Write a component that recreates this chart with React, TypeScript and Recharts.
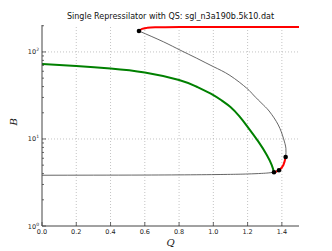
import React from "react";
import {
  ComposedChart,
  Line,
  Scatter,
  XAxis,
  YAxis,
  ReferenceLine,
} from "recharts";

// Q (x) and B (y) values
const lowerBranchQ = [0, 0.3, 0.6, 0.9, 1.1, 1.2, 1.28, 1.32, 1.354];
const lowerBranchB = [3.83, 3.84, 3.85, 3.88, 3.92, 3.96, 4.02, 4.07, 4.14];

const upperBranchQ = [0.566, 0.708, 0.806, 0.903, 1.0, 1.097, 1.195, 1.234, 1.292, 1.33, 1.379, 1.409, 1.4235, 1.422];
const upperBranchB = [174, 131, 105, 84.7, 67.8, 53.7, 38.3, 32.0, 24.6, 20.4, 14.5, 10.2, 7.8, 6.21];

const redTopQ = [0.566, 0.584, 0.613, 0.66, 0.806, 1.0, 1.5];
const redTopB = [174, 184, 189, 192, 193.7, 194, 194];

const redLowQ = [1.422, 1.409, 1.383, 1.354];
const redLowB = [6.21, 5.03, 4.37, 4.14];

const greenQ = [0, 0.2, 0.4, 0.6, 0.8, 0.9, 1.0, 1.05, 1.1, 1.15, 1.2, 1.263, 1.312, 1.341, 1.354];
const greenB = [72.8, 69.0, 64.6, 58.1, 47.7, 40.1, 32.0, 27.6, 23.3, 18.4, 13.8, 9.31, 6.55, 5.02, 4.14];

const bifQ = [0.566, 1.354, 1.383, 1.422];
const bifB = [174, 4.14, 4.37, 6.21];

const xTicks = [0, 0.2, 0.4, 0.6, 0.8, 1.0, 1.2, 1.4];
const yTicks = [1, 2, 3, 4, 5, 6, 7, 8, 9, 10, 20, 30, 40, 50, 60, 70, 80, 90, 100, 200];
const yMajor = [1, 10, 100];

const zip = (qs: number[], bs: number[]) => qs.map((q, i) => ({ q, b: bs[i] }));

const lowerData = zip(lowerBranchQ, lowerBranchB);
const upperData = zip(upperBranchQ, upperBranchB);
const redTopData = zip(redTopQ, redTopB);
const redLowData = zip(redLowQ, redLowB);
const greenData = zip(greenQ, greenB);
const bifData = zip(bifQ, bifB);

const FONT = "DejaVu Sans";
const FRAME = "#444";

const BottomTick = (props: any) => {
  const { x, y, payload } = props;
  return (
    <g>
      <line x1={x} y1={y} x2={x} y2={y - 4} stroke={FRAME} strokeWidth={0.8} />
      <text x={x} y={y + 8} textAnchor="middle" fontSize={6.5} fontFamily={FONT} fill="#222">
        {payload.value.toFixed(1)}
      </text>
    </g>
  );
};

const TopTick = (props: any) => {
  const { x, y } = props;
  return <line x1={x} y1={y} x2={x} y2={y + 4} stroke={FRAME} strokeWidth={0.8} />;
};

const LeftTick = (props: any) => {
  const { x, y, payload } = props;
  const major = yMajor.includes(payload.value);
  const exp = Math.round(Math.log10(payload.value));
  return (
    <g>
      <line x1={x} y1={y} x2={x + (major ? 4 : 2)} y2={y} stroke={FRAME} strokeWidth={0.8} />
      {major && (
        <text x={x - 3} y={y + 2.5} textAnchor="end" fontSize={6.5} fontFamily={FONT} fill="#222">
          10
          <tspan dy={-3} fontSize={4.5}>{exp}</tspan>
        </text>
      )}
    </g>
  );
};

const RightTick = (props: any) => {
  const { x, y, payload } = props;
  const major = yMajor.includes(payload.value);
  return <line x1={x} y1={y} x2={x - (major ? 4 : 2)} y2={y} stroke={FRAME} strokeWidth={0.8} />;
};

const Dot = (props: any) => <circle cx={props.cx} cy={props.cy} r={2.3} fill="#000" />;

export default function App() {
  return (
    <div style={{ position: "absolute", left: 0, top: 0, width: 332, height: 251, background: "#fff" }}>
      <div
        style={{
          position: "absolute",
          left: 42,
          width: 257,
          top: 12,
          textAlign: "center",
          fontFamily: FONT,
          fontSize: 8,
          color: "#111",
          whiteSpace: "nowrap",
        }}
      >
        Single Repressilator with QS: sgl_n3a190b.5k10.dat
      </div>
      <ComposedChart width={332} height={251} margin={{ top: 25, right: 33, bottom: 0, left: 0 }}>
        <XAxis
          dataKey="q"
          type="number"
          domain={[0, 1.5]}
          ticks={xTicks}
          allowDataOverflow
          height={25}
          tickSize={0}
          tickMargin={0}
          tickLine={false}
          axisLine={{ stroke: FRAME }}
          tick={<BottomTick />}
          label={{
            value: "Q",
            position: "insideBottom",
            offset: 5,
            style: { fontFamily: "DejaVu Serif", fontStyle: "italic", fontSize: 10, fill: "#222" },
          }}
        />
        <XAxis
          xAxisId="top"
          orientation="top"
          type="number"
          domain={[0, 1.5]}
          ticks={xTicks}
          allowDataOverflow
          height={0}
          tickSize={0}
          tickMargin={0}
          tickLine={false}
          axisLine={{ stroke: FRAME }}
          tick={<TopTick />}
        />
        <YAxis
          dataKey="b"
          type="number"
          scale="log"
          domain={[1, 204]}
          ticks={yTicks}
          allowDataOverflow
          width={42}
          tickSize={0}
          tickMargin={0}
          tickLine={false}
          interval={0}
          axisLine={{ stroke: FRAME }}
          tick={<LeftTick />}
          label={{
            value: "B",
            angle: -90,
            position: "insideLeft",
            offset: 13,
            style: { fontFamily: "DejaVu Serif", fontStyle: "italic", fontSize: 10, fill: "#222" },
          }}
        />
        <YAxis
          yAxisId="right"
          orientation="right"
          type="number"
          scale="log"
          domain={[1, 204]}
          ticks={yTicks}
          allowDataOverflow
          width={0}
          tickSize={0}
          tickMargin={0}
          tickLine={false}
          interval={0}
          axisLine={{ stroke: FRAME }}
          tick={<RightTick />}
        />
        {xTicks.slice(1).map((t) => (
          <ReferenceLine key={`vx-${t}`} x={t} stroke="#aaa" strokeWidth={0.7} strokeDasharray="1 2" />
        ))}
        {[10, 100].map((t) => (
          <ReferenceLine key={`hy-${t}`} y={t} stroke="#aaa" strokeWidth={0.7} strokeDasharray="1 2" />
        ))}
        <Line data={lowerData} dataKey="b" type="natural" stroke="#555" strokeWidth={0.9} dot={false} isAnimationActive={false} />
        <Line data={upperData} dataKey="b" type="natural" stroke="#555" strokeWidth={0.9} dot={false} isAnimationActive={false} />
        <Line data={greenData} dataKey="b" type="natural" stroke="#008000" strokeWidth={2} dot={false} isAnimationActive={false} />
        <Line data={redTopData} dataKey="b" type="natural" stroke="#ff0000" strokeWidth={2} dot={false} isAnimationActive={false} />
        <Line data={redLowData} dataKey="b" type="natural" stroke="#ff0000" strokeWidth={2} dot={false} isAnimationActive={false} />
        <Scatter data={bifData} dataKey="b" shape={<Dot />} isAnimationActive={false} />
      </ComposedChart>
    </div>
  );
}
